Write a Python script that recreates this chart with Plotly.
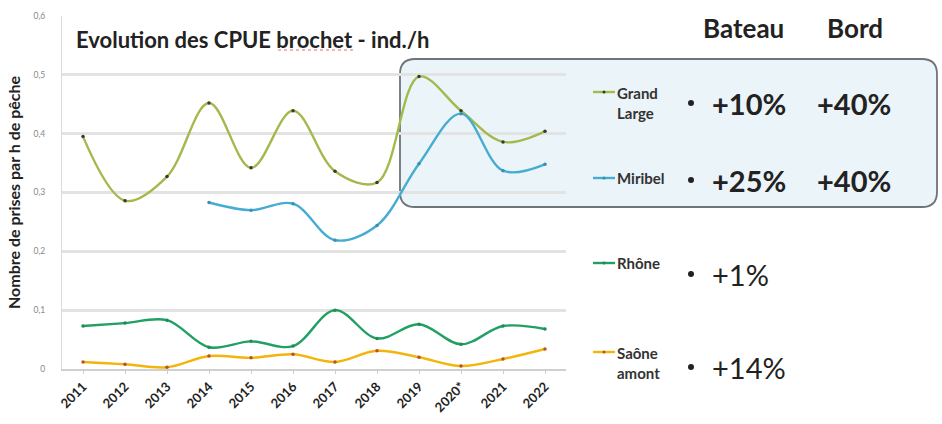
import plotly.graph_objects as go

years = ["2011", "2012", "2013", "2014", "2015", "2016", "2017", "2018", "2019", "2020*", "2021", "2022"]
grand_large = [0.395, 0.286, 0.327, 0.452, 0.342, 0.439, 0.336, 0.317, 0.497, 0.439, 0.386, 0.404]
miribel = [None, None, None, 0.283, 0.270, 0.281, 0.219, 0.244, 0.349, 0.434, 0.337, 0.348]
rhone = [0.073, 0.078, 0.083, 0.037, 0.047, 0.039, 0.100, 0.052, 0.076, 0.042, 0.073, 0.068]
saone = [0.012, 0.008, 0.003, 0.022, 0.019, 0.025, 0.012, 0.031, 0.020, 0.005, 0.017, 0.034]

series_names = ["Grand Large", "Miribel", "Rhône", "Saône amont"]
legend_labels = ["Grand<br>Large", "Miribel", "Rhône", "Saône<br>amont"]
bateau = ["+10%", "+25%", "+1%", "+14%"]
bord = ["+40%", "+40%", "", ""]
yticks = [0, 0.1, 0.2, 0.3, 0.4, 0.5, 0.6]
ytick_text = ["0", "0,1", "0,2", "0,3", "0,4", "0,5", "0,6"]

colors = ["#a2ba4c", "#45acd2", "#22a064", "#f3b50c"]
marker_colors = ["#3a3a2a", "#3a8fb0", "#1f8c55", "#b5542a"]
values = [grand_large, miribel, rhone, saone]

FONT = "Lato, Open Sans, sans-serif"
L, R, T, B = 62, 376, 16, 55
W, H = 942, 424
PW, PH = W - L - R, H - T - B


def px(x):
    return (x - L) / PW


def py(y):
    return (H - B - y) / PH


fig = go.Figure()
for name, vals, c, mc in zip(series_names, values, colors, marker_colors):
    fig.add_trace(go.Scatter(
        x=years, y=vals, name=name, mode="lines+markers",
        line=dict(color=c, width=2.4, shape="spline", smoothing=1.0),
        marker=dict(size=3.5, color=mc),
        connectgaps=False, showlegend=False,
    ))

# rounded highlight box
x0, x1, y0, y1 = px(400), px(937), py(207), py(59)
rx, ry = 15 / PW, 15 / PH
path = (f"M {x0+rx},{y1} L {x1-rx},{y1} Q {x1},{y1} {x1},{y1-ry} "
        f"L {x1},{y0+ry} Q {x1},{y0} {x1-rx},{y0} L {x0+rx},{y0} "
        f"Q {x0},{y0} {x0},{y0+ry} L {x0},{y1-ry} Q {x0},{y1} {x0+rx},{y1} Z")
fig.add_shape(type="path", path=path, xref="paper", yref="paper",
              fillcolor="rgba(228,240,245,0.75)", line=dict(color="#6f7479", width=1.8), layer="below")

fig.update_layout(
    width=W, height=H,
    margin=dict(l=L, r=R, t=T, b=B, autoexpand=False),
    paper_bgcolor="white", plot_bgcolor="rgba(0,0,0,0)",
    font=dict(family=FONT, color="#333"),
    xaxis=dict(
        type="category", tickangle=-45, showgrid=False, automargin=False,
        tickfont=dict(size=13, color="#222", family=FONT, weight="bold"),
        showline=True, linecolor="#d0d0d0", linewidth=2, ticks="outside", ticklen=3, tickcolor="#ccc",
        range=[-0.5, 11.5],
    ),
    yaxis=dict(
        range=[0, 0.6], tickmode="array", tickvals=yticks, ticktext=ytick_text,
        tickfont=dict(size=8.5, color="#888"), automargin=False,
        ticks="outside", ticklen=14, tickcolor="rgba(0,0,0,0)",
        showgrid=True, gridcolor="#e3e3e3", gridwidth=3,
        zeroline=True, zerolinecolor="#d4d4d4", zerolinewidth=3,
        showline=True, linecolor="#dadada", linewidth=1,
        title=dict(text="Nombre de prises par h de pêche", font=dict(size=16, color="#222", weight="bold"), standoff=8),
    ),
)

# title
fig.add_annotation(text="<b>Evolution des CPUE brochet - ind./h</b>", xref="paper", yref="paper",
                   x=px(74), y=py(39), xanchor="left", yanchor="middle", showarrow=False,
                   font=dict(size=22, color="#222", family=FONT))
# red spell-check underline under "brochet"
fig.add_shape(type="line", xref="paper", yref="paper", x0=px(278), x1=px(355), y0=py(50), y1=py(50),
              line=dict(color="#e07070", width=1, dash="dot"))

# headers
fig.add_annotation(text="<b>Bateau</b>", xref="paper", yref="paper", x=px(743), y=py(28),
                   xanchor="center", yanchor="middle",
                   showarrow=False, font=dict(size=26, color="#222", family=FONT))
fig.add_annotation(text="<b>Bord</b>", xref="paper", yref="paper", x=px(855), y=py(28),
                   xanchor="center", yanchor="middle",
                   showarrow=False, font=dict(size=26, color="#222", family=FONT))

# legend & values
rows_y = [103, 180, 274, 367]
label_y = [103, 178, 263, 363]
bolds = [True, True, False, False]
for lab, c, mc, yy, lyy, b1, b2, bold in zip(legend_labels, colors, marker_colors, rows_y, label_y,
                                             bateau, bord, bolds):
    ly = py(lyy - (11 if "<br>" in lab else 0))
    fig.add_shape(type="line", xref="paper", yref="paper",
                  x0=px(593), x1=px(615), y0=ly, y1=ly, line=dict(color=c, width=2.4))
    fig.add_shape(type="circle", xref="paper", yref="paper",
                  x0=px(602.5), x1=px(605.5), y0=ly - 1.5 / PH, y1=ly + 1.5 / PH,
                  fillcolor=mc, line=dict(width=0))
    fig.add_annotation(text=lab, xref="paper", yref="paper", x=px(615), y=py(lyy),
                       xanchor="left", yanchor="middle", align="left", showarrow=False,
                       font=dict(size=15, color="#333", family=FONT, weight="bold"))
    fig.add_shape(type="circle", xref="paper", yref="paper",
                  x0=px(688), x1=px(694), y0=py(yy) - 3 / PH, y1=py(yy) + 3 / PH,
                  fillcolor="#222", line=dict(width=0))
    txt1 = f"<b>{b1}</b>" if bold else b1
    fig.add_annotation(text=txt1, xref="paper", yref="paper", x=px(710), y=py(yy),
                       xanchor="left", yanchor="middle", showarrow=False,
                       font=dict(size=29, color="#222", family=FONT))
    if b2:
        fig.add_annotation(text=f"<b>{b2}</b>", xref="paper", yref="paper", x=px(815), y=py(yy),
                           xanchor="left", yanchor="middle", showarrow=False,
                           font=dict(size=29, color="#222", family=FONT))

fig.write_html("out.html", config={"displayModeBar": False},
               post_script="document.body.style.margin='0';document.body.style.padding='0';")
